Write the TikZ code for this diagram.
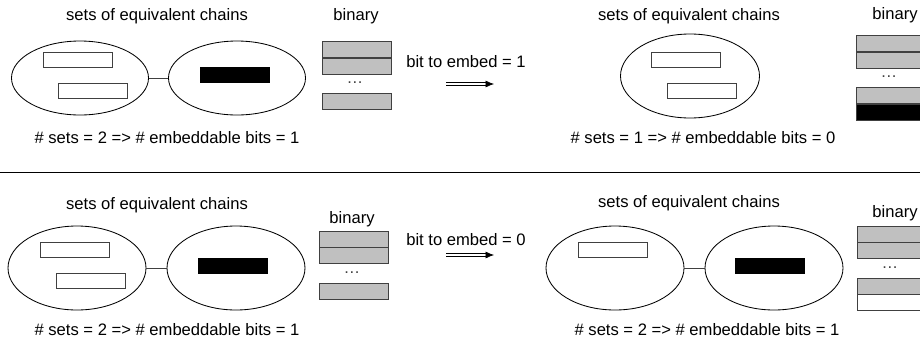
\documentclass[tikz,border=0pt]{standalone}
\usepackage{fontspec}
\setmainfont{Liberation Sans}
\definecolor{cellgray}{RGB}{192, 192, 192}
\definecolor{edgegray}{RGB}{64, 64, 64}
\usepackage{tikz}
\usetikzlibrary{shapes.geometric, arrows.meta, positioning}
\def\px{0.025cm}
\tikzset{
	every node/.append style={font=\fontsize{11.8pt}{14pt}\selectfont},
	chainset/.style={ellipse, draw=black, line width=0.6pt, inner sep=0pt,
		minimum width=137*\px, minimum height=74*\px},
	chain/.style={rectangle, draw=edgegray, line width=0.7pt, fill=white, inner sep=0pt,
		minimum width=69*\px, minimum height=15*\px},
	blackchain/.style={chain, draw=black, fill=black},
	cell/.style={rectangle, draw=edgegray, line width=0.7pt, fill=cellgray, inner sep=0pt,
		minimum width=69*\px, minimum height=16*\px},
	embedarrow/.style={double, double distance=1.4pt, line width=0.5pt, -{Latex[length=6pt,width=5pt]}},
}

\begin{document}
\begin{tikzpicture}[x=\px, y=-\px]
	\useasboundingbox (0,0) rectangle (920,350);
	\clip (0,0) rectangle (920,350);

	% top left: two sets
	\node (tlTitle) at (157,16) {sets of equivalent chains};
	\node (tlBin) at (356,16) {binary};
	\node[chainset] (tlSetA) at (80,78) {};
	\node[chainset] (tlSetB) at (237,78) {};
	\draw[edgegray, line width=0.7pt] (tlSetA) -- (tlSetB);
	\node[chain] (tlChainA) at (77.5,59.5) {};
	\node[chain] (tlChainB) at (93,91) {};
	\node[blackchain] (tlChainC) at (235,75) {};
	\node[cell] (tlCellA) at (356.5,49.5) {};
	\node[cell, below=0pt of tlCellA] (tlCellB) {};
	\node[text=edgegray] (tlDots) at (355,83) {\dots};
	\node[cell] (tlCellC) at (356.5,101) {};
	\node (tlCount) at (167,138) {\# sets = 2 => \# embeddable bits = 1};

	% top arrow
	\node (topBit) at (466,62) {bit to embed = 1};
	\coordinate (topFrom) at (446,84);
	\coordinate (topTo) at (494,84);
	\draw[embedarrow] (topFrom) -- (topTo);

	% top right: one set
	\node (trTitle) at (689,16) {sets of equivalent chains};
	\node (trBin) at (895,15) {binary};
	\node[chainset, minimum width=139*\px, minimum height=84*\px] (trSet) at (690,76) {};
	\node[chain] (trChainA) at (685.5,59.5) {};
	\node[chain] (trChainB) at (701.5,91) {};
	\node[cell] (trCellA) at (890.5,43.5) {};
	\node[cell, below=0pt of trCellA] (trCellB) {};
	\node[text=edgegray] (trDots) at (889,77) {\dots};
	\node[cell] (trCellC) at (890.5,95.5) {};
	\node[cell, fill=black, below=0pt of trCellC] (trCellD) {};
	\node (trCount) at (703,138) {\# sets = 1 => \# embeddable bits = 0};

	\draw[black, line width=0.6pt] (0,172) -- (920,172);

	% bottom left: two sets
	\node (blTitle) at (157,205) {sets of equivalent chains};
	\node (blBin) at (352,219) {binary};
	\node[chainset, minimum width=138*\px, minimum height=84*\px] (blSetA) at (77,268) {};
	\node[chainset, minimum width=138*\px, minimum height=84*\px] (blSetB) at (236,268) {};
	\draw[edgegray, line width=0.7pt] (blSetA) -- (blSetB);
	\node[chain] (blChainA) at (75,249.5) {};
	\node[chain] (blChainB) at (90.5,281) {};
	\node[blackchain] (blChainC) at (233,265.5) {};
	\node[cell] (blCellA) at (353.5,239) {};
	\node[cell, below=0pt of blCellA] (blCellB) {};
	\node[text=edgegray] (blDots) at (352,273) {\dots};
	\node[cell] (blCellC) at (353.5,291) {};
	\node (blCount) at (167,330) {\# sets = 2 => \# embeddable bits = 1};

	% bottom arrow
	\node (botBit) at (466,240) {bit to embed = 0};
	\coordinate (botFrom) at (446,255);
	\coordinate (botTo) at (494,255);
	\draw[embedarrow] (botFrom) -- (botTo);

	% bottom right: still two sets
	\node (brTitle) at (689,203) {sets of equivalent chains};
	\node (brBin) at (895,213) {binary};
	\node[chainset, minimum width=138*\px, minimum height=84*\px] (brSetA) at (615,268) {};
	\node[chainset, minimum width=138*\px, minimum height=84*\px] (brSetB) at (774,268) {};
	\draw[edgegray, line width=0.7pt] (brSetA) -- (brSetB);
	\node[chain] (brChainA) at (612.5,249.5) {};
	\node[blackchain] (brChainC) at (770,265.5) {};
	\node[cell] (brCellA) at (891.5,234) {};
	\node[cell, below=0pt of brCellA] (brCellB) {};
	\node[text=edgegray] (brDots) at (890,268) {\dots};
	\node[cell] (brCellC) at (891.5,286) {};
	\node[cell, fill=white, below=0pt of brCellC] (brCellD) {};
	\node (brCount) at (707,330) {\# sets = 2 => \# embeddable bits = 1};
\end{tikzpicture}
\end{document}
